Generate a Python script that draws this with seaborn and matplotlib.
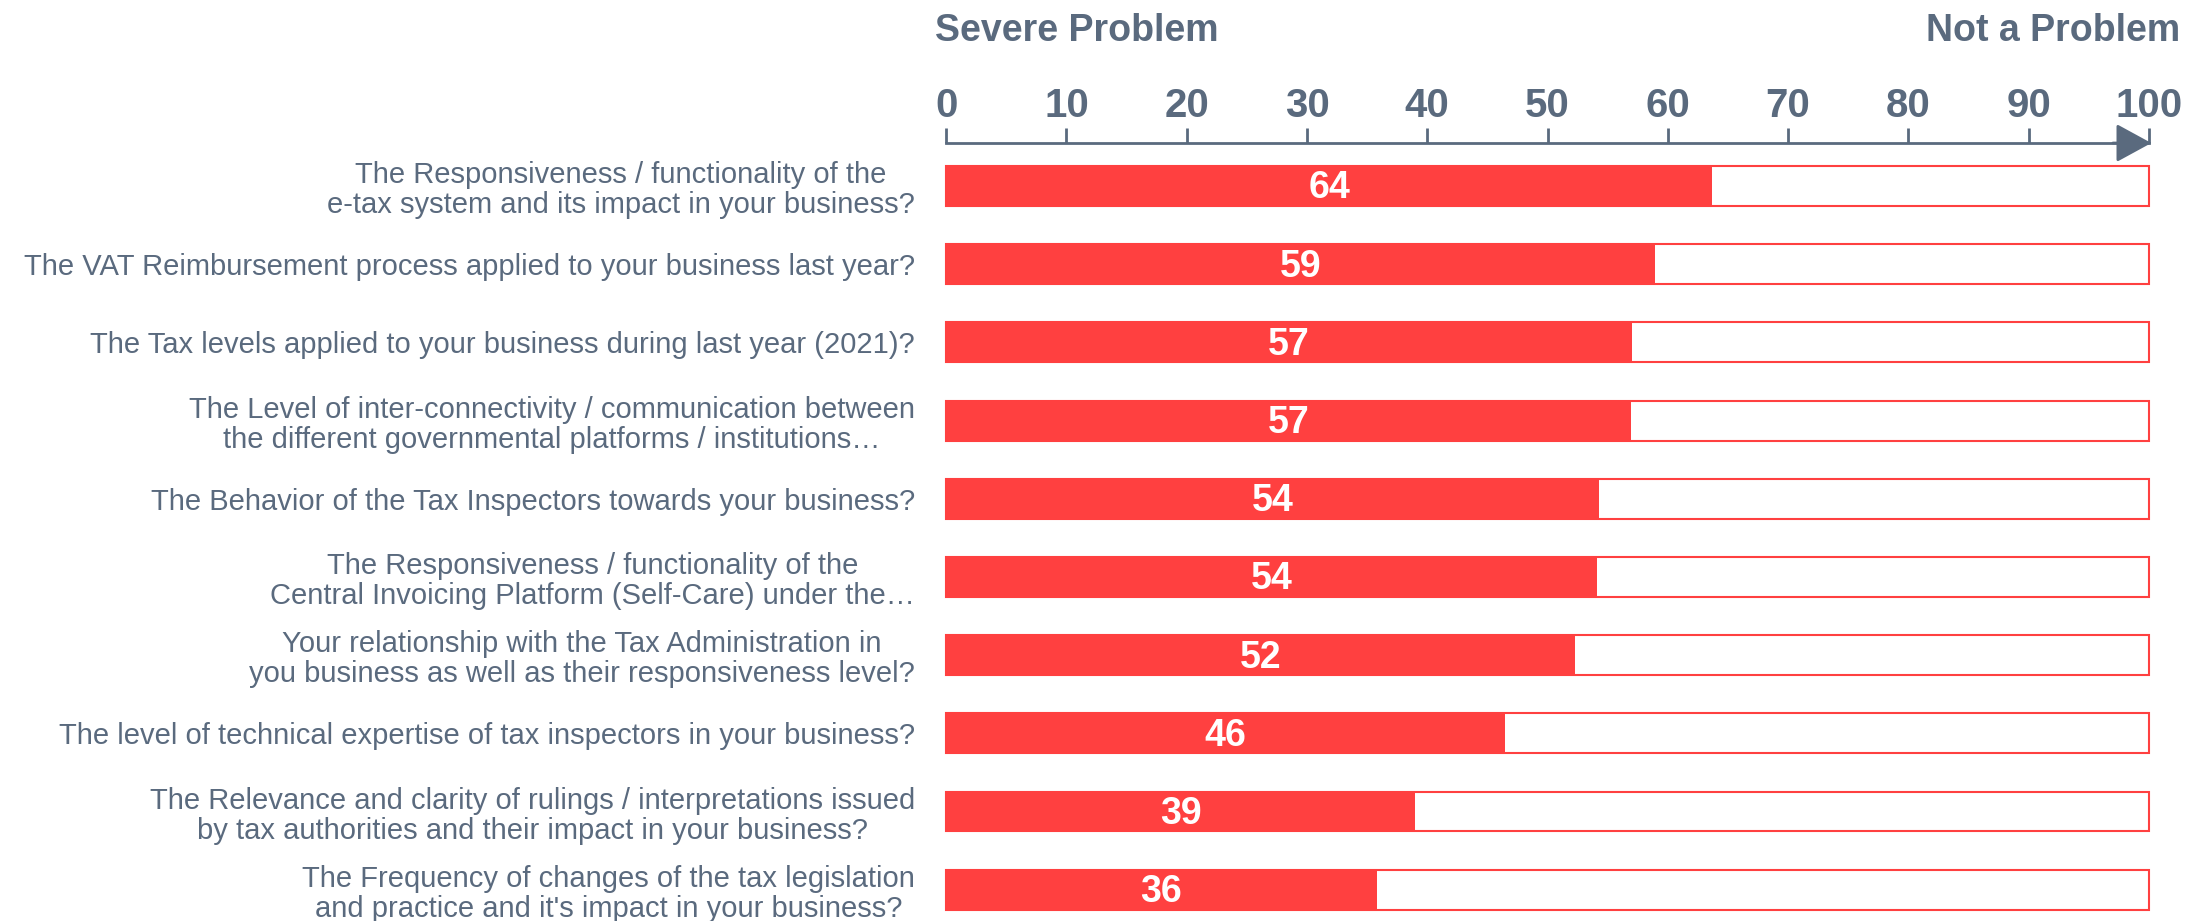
import matplotlib
matplotlib.use("Agg")
import matplotlib.pyplot as plt
import seaborn as sns
import pandas as pd

# Data
questions = [
    "The Responsiveness / functionality of the\ne-tax system and its impact in your business?",
    "The VAT Reimbursement process applied to your business last year?",
    "The Tax levels applied to your business during last year (2021)?",
    "The Level of inter-connectivity / communication between\nthe different governmental platforms / institutions…",
    "The Behavior of the Tax Inspectors towards your business?",
    "The Responsiveness / functionality of the\nCentral Invoicing Platform (Self-Care) under the…",
    "Your relationship with the Tax Administration in\nyou business as well as their responsiveness level?",
    "The level of technical expertise of tax inspectors in your business?",
    "The Relevance and clarity of rulings / interpretations issued\nby tax authorities and their impact in your business?",
    "The Frequency of changes of the tax legislation\nand practice and it's impact in your business?",
]
scores = [63.7, 58.9, 57.0, 56.9, 54.3, 54.1, 52.3, 46.5, 39.0, 35.8]
scale_max = [100] * len(questions)
ticks = [0, 10, 20, 30, 40, 50, 60, 70, 80, 90, 100]

df = pd.DataFrame({"question": questions, "score": scores, "full": scale_max})

RED = "#FF4040"
SLATE = "#5A6A7E"

sns.set_style("white")
plt.rcParams["font.family"] = ["Liberation Sans", "DejaVu Sans"]

fig = plt.figure(figsize=(21.85, 9.21), dpi=100)
ax = fig.add_axes([0.433, 0.0, 0.5505, 0.8447])

# white background bar (full scale) with red outline, then filled score
sns.barplot(data=df, x="full", y="question", orient="h", color="white",
            edgecolor=RED, linewidth=1.5, width=0.51, saturation=1, ax=ax)
sns.barplot(data=df, x="score", y="question", orient="h", color=RED,
            edgecolor="none", width=0.51, saturation=1, ax=ax)
for p in ax.patches:
    p.set_clip_on(False)

for i, v in enumerate(scores):
    ax.text(v / 2, i + 0.03, f"{round(v)}", ha="center", va="center",
            color="white", fontsize=27, fontweight="bold")

ax.set_xlim(0, 100)
ax.set_ylim(9.4, -0.55)
ax.set_xlabel("")
ax.set_ylabel("")

ax.xaxis.tick_top()
ax.set_xticks(ticks)
ax.set_xticklabels([str(t) for t in ticks], fontsize=29, fontweight="bold", color=SLATE)
ax.tick_params(axis="x", top=True, bottom=False, direction="out", length=11,
               width=2, color=SLATE, pad=2)
ax.tick_params(axis="y", left=False, pad=19, labelsize=21, labelcolor=SLATE)
for lbl in ax.get_yticklabels():
    lbl.set_multialignment("center")
    lbl.set_linespacing(1.1)

for s in ["left", "right", "bottom"]:
    ax.spines[s].set_visible(False)
ax.spines["top"].set_color(SLATE)
ax.spines["top"].set_linewidth(2)

# arrow head at the end of the scale line
ax.annotate("", xy=(100.2, 1), xycoords=("data", "axes fraction"),
            xytext=(97, 1), textcoords=("data", "axes fraction"),
            arrowprops=dict(arrowstyle="-|>,head_length=1.1,head_width=0.6",
                            color=SLATE, lw=2, shrinkA=0, shrinkB=0,
                            mutation_scale=20),
            annotation_clip=False)

fig.text(0.428, 0.966, "Severe Problem", ha="left", va="center",
         fontsize=27, fontweight="bold", color=SLATE)
fig.text(0.998, 0.966, "Not a Problem", ha="right", va="center",
         fontsize=27, fontweight="bold", color=SLATE)

fig.savefig("out.png", dpi=100)
